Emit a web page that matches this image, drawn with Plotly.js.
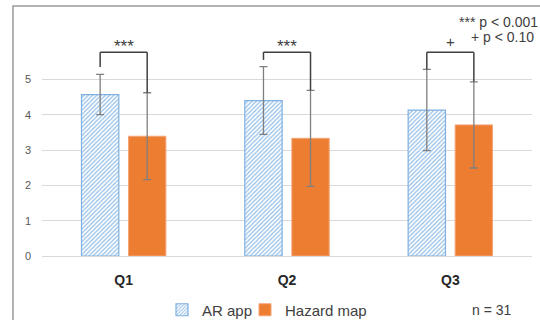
<!DOCTYPE html>
<html>
<head>
<meta charset="utf-8">
<script src="https://cdn.plot.ly/plotly-3.0.1.min.js"></script>
<style>html,body{margin:0;padding:0;background:#fff;}#chart{width:540px;height:320px;}</style>
</head>
<body>
<div id="chart"></div>
<script>
// ---- data ----
const categories = ['Q1', 'Q2', 'Q3'];
const arMeans = [4.57, 4.40, 4.13];
const arSD = [0.57, 0.96, 1.15];
const hazardMeans = [3.39, 3.33, 3.71];
const hazardSD = [1.23, 1.36, 1.22];
const seriesNames = ['AR app', 'Hazard map'];
const sigLabels = ['***', '***', '+'];
const bracketLevel = 5.77;
const bracketLeftEnd = [5.35, 5.55, 5.28];
const yTicks = [0, 1, 2, 3, 4, 5];
const pLegend = ['*** p < 0.001', '+ p < 0.10'];
const sampleNote = 'n = 31';

// ---- layout constants ----
const W = 540, H = 320;
const M = {l: 42, r: 8, t: 44, b: 64, autoexpand: false};
const PW = W - M.l - M.r, PH = H - M.t - M.b;
const bargap = 0.424, bargroupgap = 0.206;
const off = (1 - bargap) / 4;
const px2x = px => (px - M.l) / PW;
const py2y = py => (H - M.b - py) / PH;
const txt = '#404040';
const font = 'Liberation Sans, Arial, sans-serif';

const errStyle = {type: 'data', visible: true, color: '#7f7f7f', thickness: 1.3, width: 4};

const traces = [
  {
    type: 'bar', name: seriesNames[0], x: categories, y: arMeans, legend: 'legend',
    error_y: Object.assign({array: arSD}, errStyle),
    marker: {
      color: 'white',
      line: {color: '#7fb0e0', width: 1.2},
      pattern: {shape: '/', fgcolor: '#92bde8', bgcolor: 'white', size: 3, solidity: 0.4}
    }
  },
  {
    type: 'bar', name: seriesNames[1], x: categories, y: hazardMeans, legend: 'legend2',
    error_y: Object.assign({array: hazardSD}, errStyle),
    marker: {color: '#ed7d31', line: {color: '#f4a477', width: 1}}
  }
];

const shapes = [];
const annotations = [];
categories.forEach((c, i) => {
  const xl = i - off, xr = i + off;
  const rightEnd = hazardMeans[i] + hazardSD[i];
  const ln = {color: '#404040', width: 1.5};
  shapes.push({type: 'line', xref: 'x', yref: 'y', x0: xl, x1: xl, y0: bracketLeftEnd[i], y1: bracketLevel, line: ln});
  shapes.push({type: 'line', xref: 'x', yref: 'y', x0: xl, x1: xr, y0: bracketLevel, y1: bracketLevel, line: ln});
  shapes.push({type: 'line', xref: 'x', yref: 'y', x0: xr, x1: xr, y0: bracketLevel, y1: rightEnd, line: ln});
  const isStar = sigLabels[i] !== '+';
  annotations.push({
    xref: 'x', yref: 'y', x: i, y: bracketLevel, text: sigLabels[i], showarrow: false,
    yanchor: 'bottom', yshift: isStar ? -6 : 0,
    font: {family: font, size: isStar ? 17 : 15, color: txt}
  });
});

// outer frame (extends past right/bottom edges as in the source image)
shapes.push({type: 'rect', xref: 'paper', yref: 'paper',
  x0: px2x(13), x1: px2x(600), y0: py2y(400), y1: py2y(6),
  line: {color: '#9a9a9a', width: 1.5}, fillcolor: 'rgba(0,0,0,0)', layer: 'below'});

annotations.push({xref: 'paper', yref: 'paper', x: px2x(498), y: py2y(21.5), text: pLegend[0],
  showarrow: false, xanchor: 'center', yanchor: 'middle', font: {family: font, size: 14, color: txt}});
annotations.push({xref: 'paper', yref: 'paper', x: px2x(502), y: py2y(37.5), text: pLegend[1],
  showarrow: false, xanchor: 'center', yanchor: 'middle', font: {family: font, size: 14, color: txt}});
annotations.push({xref: 'paper', yref: 'paper', x: px2x(492), y: py2y(310), text: sampleNote,
  showarrow: false, xanchor: 'center', yanchor: 'middle', font: {family: font, size: 14, color: txt}});

const legendBase = {
  orientation: 'h', xanchor: 'left', y: py2y(310), yanchor: 'middle',
  font: {family: font, size: 15, color: txt}, bgcolor: 'rgba(0,0,0,0)'
};

const layout = {
  width: W, height: H,
  margin: M,
  paper_bgcolor: 'white', plot_bgcolor: 'white',
  barmode: 'group', bargap: bargap, bargroupgap: bargroupgap,
  showlegend: true,
  legend: Object.assign({}, legendBase, {x: px2x(162)}),
  legend2: Object.assign({}, legendBase, {x: px2x(245)}),
  xaxis: {
    type: 'category', range: [-0.5, 2.5], showgrid: false, zeroline: false, showline: false,
    ticks: '', ticklabelstandoff: 14,
    tickfont: {family: font, size: 14, color: '#262626', weight: 'bold'}
  },
  yaxis: {
    range: [0, 6], tickvals: yTicks, ticktext: yTicks.map(String), showgrid: true, gridcolor: '#d9d9d9',
    gridwidth: 1, zeroline: true, zerolinecolor: '#d9d9d9', zerolinewidth: 1, showline: false, ticks: '',
    ticklabelstandoff: 10, tickfont: {family: font, size: 11, color: '#595959'}
  },
  shapes: shapes,
  annotations: annotations
};

Plotly.newPlot('chart', traces, layout, {displayModeBar: false, staticPlot: true});
</script>
</body>
</html>
